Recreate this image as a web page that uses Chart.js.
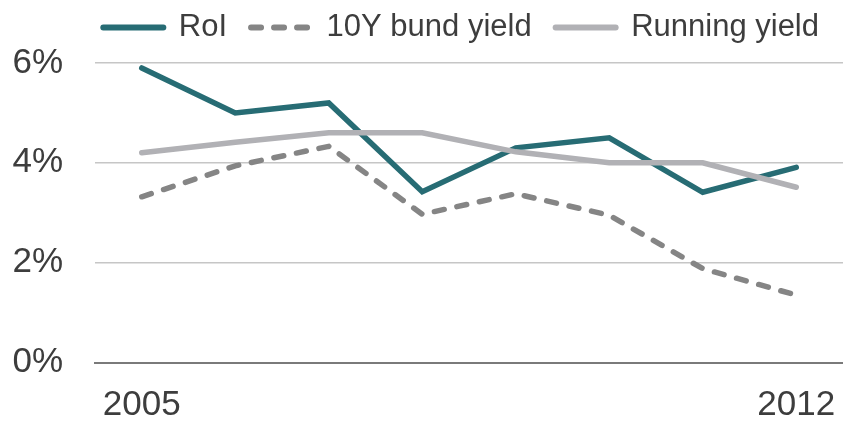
<!DOCTYPE html>
<html>
<head>
<meta charset="utf-8">
<script src="https://cdn.jsdelivr.net/npm/chart.js@4"></script>
<style>
  html, body { margin: 0; padding: 0; background: #fff; }
  #wrap { width: 843px; height: 424px; }
</style>
</head>
<body>
<div id="wrap"><canvas id="c" width="843" height="424"></canvas></div>
<script>
const years = ['2005','2006','2007','2008','2009','2010','2011','2012'];
const roi = [5.9, 5.0, 5.2, 3.42, 4.3, 4.5, 3.41, 3.91];
const bund = [3.32, 3.94, 4.33, 2.97, 3.38, 2.95, 1.88, 1.35];
const running = [4.2, 4.41, 4.6, 4.6, 4.22, 4.0, 4.0, 3.51];
const yTicks = [0, 2, 4, 6];

const FONT = "'Liberation Sans', Arial, sans-serif";
const TEXT = '#3d3d3d';

new Chart(document.getElementById('c'), {
  type: 'line',
  data: {
    labels: years,
    datasets: [
      { label: 'RoI', data: roi, borderColor: '#276c74', backgroundColor: '#276c74', borderWidth: 5.5, pointRadius: 0, tension: 0, borderCapStyle: 'round', borderJoinStyle: 'miter', order: 1 },
      { label: '10Y bund yield', data: bund, borderColor: '#858585', backgroundColor: '#858585', borderWidth: 5.5, borderDash: [10, 13], borderCapStyle: 'round', pointRadius: 0, tension: 0, order: 2 },
      { label: 'Running yield', data: running, borderColor: '#b1b1b5', backgroundColor: '#b1b1b5', borderWidth: 5.5, pointRadius: 0, tension: 0, borderCapStyle: 'round', order: 0 }
    ]
  },
  options: {
    responsive: false,
    animation: false,
    layout: { padding: { left: 0, right: 0, top: -13, bottom: 0 } },
    plugins: {
      tooltip: { enabled: false },
      legend: {
        display: true,
        position: 'top',
        align: 'end',
        labels: {
          color: TEXT,
          font: { family: FONT, size: 31 },
          usePointStyle: true,
          pointStyleWidth: 60,
          boxWidth: 60,
          boxHeight: 10,
          padding: 24,
          generateLabels: (chart) => chart.data.datasets.map((ds, i) => ({
            text: ds.label,
            fillStyle: ds.borderColor,
            strokeStyle: ds.borderColor,
            lineWidth: 6,
            lineDash: ds.borderDash || [],
            lineCap: 'round',
            pointStyle: 'line',
            fontColor: TEXT,
            datasetIndex: i,
            hidden: false
          }))
        }
      }
    },
    scales: {
      x: {
        offset: true,
        afterFit: (s) => { s.height = 61.5; s.paddingRight = 0; s.paddingLeft = 0; },
        grid: { display: false, drawTicks: false },
        border: { display: true, color: '#7a7a7a', width: 2 },
        ticks: {
          color: TEXT,
          font: { family: FONT, size: 35, lineHeight: 1 },
          padding: 25,
          maxRotation: 0,
          autoSkip: false,
          callback: function(v, i) { return (i === 0 || i === years.length - 1) ? years[i] : ''; }
        }
      },
      y: {
        min: 0,
        max: 6.2,
        afterFit: (s) => { s.width = 95; },
        afterBuildTicks: (axis) => { axis.ticks = yTicks.map(v => ({ value: v })); },
        grid: { color: (ctx) => ctx.tick && ctx.tick.value === 0 ? 'rgba(0,0,0,0)' : '#c6c6c6', lineWidth: 1.5, drawTicks: false },
        border: { display: false },
        ticks: {
          color: TEXT,
          font: { family: FONT, size: 35 },
          padding: 32,
          callback: (v) => v + '%'
        }
      }
    }
  }
});
</script>
</body>
</html>
